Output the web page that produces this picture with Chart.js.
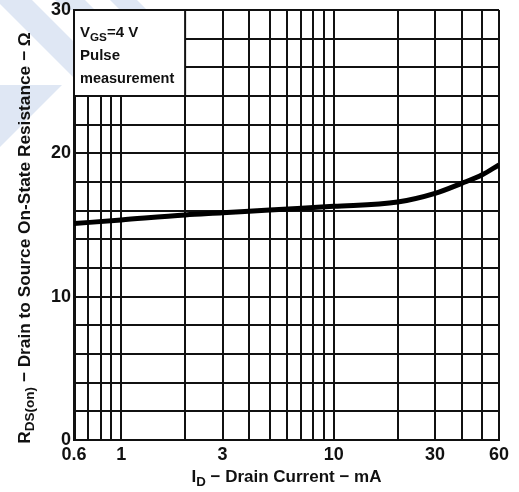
<!DOCTYPE html>
<html>
<head>
<meta charset="utf-8">
<script src="https://cdn.jsdelivr.net/npm/chart.js@4"></script>
<style>
  html, body { margin: 0; padding: 0; background: #fff; }
  #wrap { width: 519px; height: 492px; }
</style>
</head>
<body>
<div id="wrap"><canvas id="rds-chart"></canvas></div>
<script>
// drain current (mA) vs on-state resistance (ohm)
var drainCurrent = [0.6, 1, 2, 3, 5, 10, 20, 30, 40, 50, 60];
var resistance   = [15.1, 15.35, 15.7, 15.85, 16.05, 16.3, 16.6, 17.2, 17.9, 18.5, 19.2];

var xGridValues = [0.6, 0.7, 0.8, 0.9, 1, 2, 3, 4, 5, 6, 7, 8, 9, 10, 20, 30, 40, 50, 60];
var xTickLabels = [0.6, 1, 3, 10, 30, 60];
var yTickLabels = [0, 10, 20, 30];

var fontFamily = '"Liberation Sans", Arial, Helvetica, sans-serif';

// draw text with a subscript part: parts = [[text, isSub], ...]
function drawParts(ctx, parts, x, y, size, align) {
    var total = 0;
    parts.forEach(function (p) {
        ctx.font = 'bold ' + (p[1] ? size * 0.78 : size) + 'px ' + fontFamily;
        total += ctx.measureText(p[0]).width;
    });
    var cx = align === 'center' ? x - total / 2 : x;
    parts.forEach(function (p) {
        ctx.font = 'bold ' + (p[1] ? size * 0.78 : size) + 'px ' + fontFamily;
        ctx.fillText(p[0], cx, p[1] ? y + size * 0.25 : y);
        cx += ctx.measureText(p[0]).width;
    });
}

var decorPlugin = {
    id: 'decor',
    beforeDraw: function (chart) {
        var ctx = chart.ctx;
        var area = chart.chartArea;
        ctx.save();
        ctx.fillStyle = '#dfe7f4';
        ctx.beginPath();
        ctx.moveTo(0, 0); ctx.lineTo(32, 0); ctx.lineTo(74, 42); ctx.lineTo(74, 78); ctx.lineTo(0, 4);
        ctx.closePath(); ctx.fill();
        ctx.beginPath();
        ctx.moveTo(55, 0); ctx.lineTo(85, 0); ctx.lineTo(95, 10); ctx.lineTo(65, 10);
        ctx.closePath(); ctx.fill();
        ctx.beginPath();
        ctx.moveTo(110, 0); ctx.lineTo(137, 0); ctx.lineTo(147, 10); ctx.lineTo(120, 10);
        ctx.closePath(); ctx.fill();
        ctx.beginPath();
        ctx.moveTo(0, 85); ctx.lineTo(62, 85); ctx.lineTo(0, 147);
        ctx.closePath(); ctx.fill();
        ctx.fillStyle = '#fff';
        ctx.fillRect(area.left, area.top, area.right - area.left, area.bottom - area.top);
        ctx.restore();
    },
    beforeDatasetsDraw: function (chart) {
        var ctx = chart.ctx;
        var xs = chart.scales.x, ys = chart.scales.y;
        var left = xs.getPixelForValue(0.6), right = xs.getPixelForValue(2);
        var top = ys.getPixelForValue(30), bottom = ys.getPixelForValue(24);
        ctx.save();
        ctx.fillStyle = '#fff';
        ctx.fillRect(left, top, right - left, bottom - top);
        ctx.strokeStyle = '#111';
        ctx.lineWidth = 2;
        ctx.strokeRect(left, top, right - left, bottom - top);
        ctx.fillStyle = '#111';
        ctx.textBaseline = 'alphabetic';
        ctx.textAlign = 'left';
        drawParts(ctx, [['V', false], ['GS', true], ['=4 V', false]], left + 6, top + 27, 15);
        drawParts(ctx, [['Pulse', false]], left + 6, top + 50, 15);
        drawParts(ctx, [['measurement', false]], left + 6, top + 73, 14.5);
        ctx.restore();
    },
    afterDraw: function (chart) {
        var ctx = chart.ctx;
        var area = chart.chartArea;
        ctx.save();
        ctx.fillStyle = '#111';
        ctx.textAlign = 'left';
        ctx.textBaseline = 'alphabetic';
        drawParts(ctx, [['I', false], ['D', true], [' \u2212 Drain Current \u2212 mA', false]],
            (area.left + area.right) / 2, 482, 17, 'center');
        ctx.translate(30, 238);
        ctx.rotate(-Math.PI / 2);
        drawParts(ctx, [['R', false], ['DS(on)', true], [' \u2212 Drain to Source On-State Resistance \u2212 \u03a9', false]],
            0, 0, 17.3, 'center');
        ctx.restore();
    }
};

var ctxRds = document.getElementById('rds-chart').getContext('2d');

var dataRds = {
    datasets: [{
        label: 'RDS(on)',
        data: drainCurrent.map(function (v, i) { return { x: v, y: resistance[i] }; }),
        borderColor: '#000',
        borderWidth: 5,
        pointRadius: 0,
        cubicInterpolationMode: 'monotone',
        fill: false
    }]
};

var optionRds = {
    responsive: true,
    maintainAspectRatio: false,
    animation: false,
    layout: { padding: { top: 10, right: 20, left: 0, bottom: 0 } },
    plugins: {
        legend: { display: false },
        tooltip: { enabled: false }
    },
    scales: {
        x: {
            type: 'logarithmic',
            min: 0.6,
            max: 60,
            afterBuildTicks: function (scale) {
                scale.ticks = xGridValues.map(function (v) { return { value: v }; });
            },
            afterFit: function (scale) {
                scale.height = 52;
                scale.paddingLeft = 0;
                scale.paddingRight = 0;
            },
            grid: { color: '#111', lineWidth: 2, drawTicks: false },
            border: { color: '#111', width: 2 },
            ticks: {
                autoSkip: false,
                maxRotation: 0,
                padding: 4,
                color: '#111',
                font: { family: fontFamily, size: 18, weight: 'bold' },
                callback: function (v) { return xTickLabels.indexOf(v) >= 0 ? String(v) : ''; }
            }
        },
        y: {
            min: 0,
            max: 30,
            afterFit: function (scale) {
                scale.width = 74;
                scale.paddingTop = 0;
                scale.paddingBottom = 0;
            },
            grid: { color: '#111', lineWidth: 2, drawTicks: false },
            border: { color: '#111', width: 3 },
            ticks: {
                stepSize: 2,
                padding: 3,
                color: '#111',
                font: { family: fontFamily, size: 18, weight: 'bold' },
                callback: function (v) { return yTickLabels.indexOf(v) >= 0 ? String(v) : ''; }
            }
        }
    }
};

new Chart(ctxRds, { type: 'line', data: dataRds, options: optionRds, plugins: [decorPlugin] });
</script>
</body>
</html>
